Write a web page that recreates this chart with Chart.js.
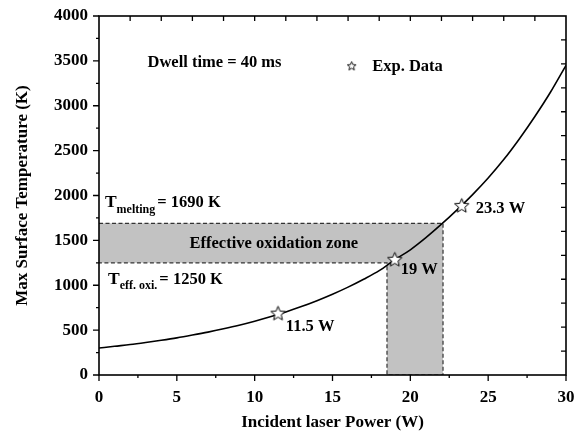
<!DOCTYPE html>
<html lang="en">
<head>
    <meta charset="UTF-8">
    <title>Max Surface Temperature vs Incident Laser Power</title>
    <script src="https://cdn.jsdelivr.net/npm/chart.js"></script>
    <style>
        html, body {
            margin: 0;
            padding: 0;
            background: #fff;
        }

        .chart-container {
            width: 579px;
            height: 437px;
        }
    </style>
</head>
<body>

    <div class="chart-container">
        <canvas id="tempChart" width="579" height="437"></canvas>
    </div>

    <script>
        // Simulated curve
        const powerW = [0, 1, 2, 3, 4, 5, 6, 7, 8, 9, 10, 11, 12, 13, 14, 15,
            16, 17, 18, 19, 20, 21, 22, 23, 24, 25, 26, 27, 28, 29, 30];
        const tempK = [300, 320, 339, 362, 387, 414, 445, 478, 515, 555, 600, 649, 703, 762, 828, 900,
            979, 1067, 1163, 1285, 1395, 1530, 1680, 1840, 2010, 2195, 2400, 2630, 2880, 3150, 3450];

        // Experimental points
        const expPower = [11.5, 19, 23.3];
        const expTemp = [690, 1290, 1890];
        const expLabels = ['11.5 W', '19 W', '23.3 W'];

        // Effective oxidation zone
        const meltingTemp = 1690;
        const oxiTemp = 1250;
        const zonePower = [18.5, 22.1];

        const xTicks = [0, 5, 10, 15, 20, 25, 30];
        const yTicks = [0, 500, 1000, 1500, 2000, 2500, 3000, 3500, 4000];

        const serif = "'Liberation Serif', 'Times New Roman', serif";

        // Outlined star used for the experimental points
        function makeStar(size, lineW) {
            const c = document.createElement('canvas');
            c.width = size;
            c.height = size;
            const g = c.getContext('2d');
            const cx = size / 2, cy = size / 2 + size * 0.04;
            const R = size / 2 - lineW, r = R * 0.45;
            g.beginPath();
            for (let i = 0; i < 10; i++) {
                const a = -Math.PI / 2 + i * Math.PI / 5;
                const rad = i % 2 === 0 ? R : r;
                g.lineTo(cx + rad * Math.cos(a), cy + rad * Math.sin(a));
            }
            g.closePath();
            g.fillStyle = '#fff';
            g.fill();
            g.lineWidth = lineW;
            g.strokeStyle = '#000';
            g.stroke();
            return c;
        }
        const bigStar = makeStar(17, 1);
        const smallStar = makeStar(11, 0.9);

        const curve = powerW.map((p, i) => ({ x: p, y: tempK[i] }));
        const expPts = expPower.map((p, i) => ({ x: p, y: expTemp[i] }));
        const zone = [
            { x: 0, y: meltingTemp },
            { x: zonePower[1], y: meltingTemp },
            { x: zonePower[1], y: 0 },
            { x: zonePower[0], y: 0 },
            { x: zonePower[0], y: oxiTemp },
            { x: 0, y: oxiTemp }
        ];

        // Frame, ticks and text annotations
        const framePlugin = {
            id: 'frame',
            afterDraw(chart) {
                const ctx = chart.ctx;
                const xs = chart.scales.x, ys = chart.scales.y;
                const a = chart.chartArea;
                ctx.save();
                ctx.strokeStyle = '#000';
                ctx.lineWidth = 1.6;
                ctx.strokeRect(a.left, a.top, a.right - a.left, a.bottom - a.top);

                ctx.lineWidth = 1.3;
                ctx.beginPath();
                // bottom: major + minor, outward
                for (let v = 0; v <= 30; v += 2.5) {
                    const px = xs.getPixelForValue(v);
                    const len = v % 5 === 0 ? 6 : 3;
                    ctx.moveTo(px, a.bottom);
                    ctx.lineTo(px, a.bottom + len);
                }
                // left: major + minor, outward
                for (let v = 0; v <= 4000; v += 250) {
                    const py = ys.getPixelForValue(v);
                    const len = v % 500 === 0 ? 6 : 3;
                    ctx.moveTo(a.left, py);
                    ctx.lineTo(a.left - len, py);
                }
                // top: inward, every 2 W
                for (let v = 2; v < 30; v += 2) {
                    const px = xs.getPixelForValue(v);
                    ctx.moveTo(px, a.top);
                    ctx.lineTo(px, a.top + 5);
                }
                // right: inward, 15 divisions
                for (let k = 1; k < 15; k++) {
                    const py = ys.getPixelForValue(k * 4000 / 15);
                    ctx.moveTo(a.right, py);
                    ctx.lineTo(a.right - 5, py);
                }
                ctx.stroke();

                // text
                const X = v => xs.getPixelForValue(v);
                const Y = v => ys.getPixelForValue(v);
                ctx.fillStyle = '#000';
                ctx.textBaseline = 'middle';
                ctx.font = 'bold 16.5px ' + serif;

                ctx.textAlign = 'center';
                ctx.fillText('Dwell time = 40 ms', X(7.42), Y(3476));
                ctx.fillText('Effective oxidation zone', X(11.23), Y(1460));

                ctx.textAlign = 'left';
                ctx.drawImage(smallStar, X(16.23) - 5.5, Y(3445) - 5.5);
                ctx.fillText('Exp. Data', X(17.55), Y(3440));

                const exPos = [[12.0, 538], [19.38, 1178], [24.2, 1850]];
                expLabels.forEach((t, i) => ctx.fillText(t, X(exPos[i][0]), Y(exPos[i][1])));

                // T with subscripts
                function tLabel(sub, rest, xv, yv) {
                    let px = X(xv);
                    const py = Y(yv);
                    ctx.font = 'bold 17.5px ' + serif;
                    ctx.fillText('T', px, py);
                    px += ctx.measureText('T').width;
                    ctx.font = 'bold 12px ' + serif;
                    ctx.fillText(sub, px, py + 7);
                    px += ctx.measureText(sub).width + 2;
                    ctx.font = 'bold 16.5px ' + serif;
                    ctx.fillText(rest, px, py);
                }
                tLabel('melting', '= ' + meltingTemp + ' K', 0.38, 1920);
                tLabel('eff. oxi.', '= ' + oxiTemp + ' K', 0.58, 1066);
                ctx.restore();
            }
        };

        const ctx = document.getElementById('tempChart').getContext('2d');
        const config = {
            type: 'scatter',
            data: {
                datasets: [
                    {
                        label: 'Effective oxidation zone',
                        data: zone,
                        showLine: true,
                        fill: 'shape',
                        backgroundColor: '#c2c2c2',
                        borderColor: '#333',
                        borderWidth: 1.2,
                        borderDash: [4, 2.5],
                        pointRadius: 0,
                        order: 3
                    },
                    {
                        label: 'Simulation',
                        data: curve,
                        showLine: true,
                        cubicInterpolationMode: 'monotone',
                        borderColor: '#000',
                        borderWidth: 1.6,
                        pointRadius: 0,
                        fill: false,
                        order: 2
                    },
                    {
                        label: 'Exp. Data',
                        data: expPts,
                        pointStyle: bigStar,
                        pointRadius: 8,
                        order: 1
                    }
                ]
            },
            options: {
                responsive: false,
                animation: false,
                layout: { padding: { top: 16, right: 13, left: 0, bottom: 0 } },
                plugins: {
                    legend: { display: false },
                    tooltip: { enabled: false }
                },
                scales: {
                    x: {
                        type: 'linear',
                        min: 0,
                        max: 30,
                        afterBuildTicks: s => { s.ticks = xTicks.map(v => ({ value: v })); },
                        grid: { display: false, drawTicks: false },
                        border: { display: false },
                        ticks: {
                            color: '#000',
                            padding: 12,
                            callback: v => String(v),
                            font: { family: serif, size: 17, weight: 'bold' }
                        },
                        title: {
                            display: true,
                            text: 'Incident laser Power (W)',
                            color: '#000',
                            padding: { top: 9, bottom: 4 },
                            font: { family: serif, size: 17, weight: 'bold' }
                        },
                        afterFit: s => {
                            s.height = 62;
                            s.paddingLeft = 0;
                            s.paddingRight = 0;
                        }
                    },
                    y: {
                        type: 'linear',
                        min: 0,
                        max: 4000,
                        afterBuildTicks: s => { s.ticks = yTicks.map(v => ({ value: v })); },
                        grid: { display: false, drawTicks: false },
                        border: { display: false },
                        ticks: {
                            color: '#000',
                            padding: 11,
                            callback: v => String(v),
                            font: { family: serif, size: 17, weight: 'bold' }
                        },
                        title: {
                            display: true,
                            text: 'Max Surface Temperature (K)',
                            color: '#000',
                            padding: { top: 12, bottom: 4 },
                            font: { family: serif, size: 17, weight: 'bold' }
                        },
                        afterFit: s => {
                            s.width = 99;
                            s.paddingTop = 0;
                            s.paddingBottom = 0;
                        }
                    }
                }
            },
            plugins: [framePlugin]
        };

        const tempChart = new Chart(ctx, config);
    </script>

</body>
</html>
